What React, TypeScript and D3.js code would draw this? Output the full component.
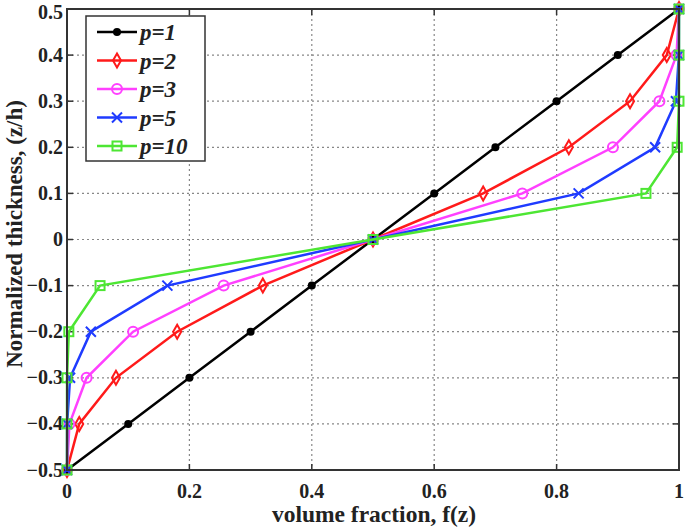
import React from "react";
import * as d3 from "d3";

const zValues = [-0.5, -0.4, -0.3, -0.2, -0.1, 0, 0.1, 0.2, 0.3, 0.4, 0.5];
const fP1 = [0, 0.1, 0.2, 0.3, 0.4, 0.5, 0.6, 0.7, 0.8, 0.9, 1];
const fP2 = [0, 0.02, 0.08, 0.18, 0.32, 0.5, 0.68, 0.82, 0.92, 0.98, 1];
const fP3 = [0, 0.004, 0.032, 0.108, 0.256, 0.5, 0.744, 0.892, 0.968, 0.996, 1];
const fP5 = [0, 0.0002, 0.005, 0.039, 0.164, 0.5, 0.836, 0.961, 0.995, 0.9998, 1];
const fP10 = [0, 0, 0.00003, 0.003, 0.054, 0.5, 0.946, 0.997, 0.99997, 1, 1];
const labels = ["p=1", "p=2", "p=3", "p=5", "p=10"];
const colors = ["#000000", "#ff1a1a", "#ff40ff", "#1f3bff", "#4de633"];
const markers = ["dot", "diamond", "circle", "x", "square"];
const xTicks = [0, 0.2, 0.4, 0.6, 0.8, 1];
const yTicks = [-0.5, -0.4, -0.3, -0.2, -0.1, 0, 0.1, 0.2, 0.3, 0.4, 0.5];

const series = [fP1, fP2, fP3, fP5, fP10];

function Marker({ type, x, y, color }: { type: string; x: number; y: number; color: string }) {
  const sw = 2;
  if (type === "dot") return <circle cx={x} cy={y} r={4} fill={color} />;
  if (type === "diamond")
    return <path d={`M${x},${y - 7}L${x + 4},${y}L${x},${y + 7}L${x - 4},${y}Z`} fill="none" stroke={color} strokeWidth={sw} />;
  if (type === "circle") return <circle cx={x} cy={y} r={5} fill="none" stroke={color} strokeWidth={sw} />;
  if (type === "x")
    return <path d={`M${x - 5},${y - 5}L${x + 5},${y + 5}M${x - 5},${y + 5}L${x + 5},${y - 5}`} stroke={color} strokeWidth={sw} />;
  return <rect x={x - 4.5} y={y - 4.5} width={9} height={9} fill="none" stroke={color} strokeWidth={sw} />;
}

export default function App() {
  const W = 685, H = 532;
  const L = 67, R = 679, T = 9, B = 470;
  const x = d3.scaleLinear().domain([0, 1]).range([L, R]);
  const y = d3.scaleLinear().domain([-0.5, 0.5]).range([B, T]);
  const line = d3.line<number>().x((d) => x(d)).y((_, i) => y(zValues[i]));
  const font = "'Liberation Serif', 'Times New Roman', serif";
  const fmt = (v: number) => (v === 0 ? "0" : v === 1 ? "1" : d3.format(".1f")(v));
  return (
    <svg width={W} height={H} style={{ position: "absolute", left: 0, top: 0, background: "#fff" }}>
      <rect x={0} y={0} width={W} height={H} fill="#fff" />
      {xTicks.slice(1, -1).map((t) => (
        <line key={"gx" + t} x1={x(t)} x2={x(t)} y1={T} y2={B} stroke="#888" strokeWidth={1.2} strokeDasharray="2,3" />
      ))}
      {yTicks.slice(1, -1).map((t) => (
        <line key={"gy" + t} x1={L} x2={R} y1={y(t)} y2={y(t)} stroke="#888" strokeWidth={1.2} strokeDasharray="2,3" />
      ))}
      {xTicks.map((t) => (
        <g key={"tx" + t}>
          <line x1={x(t)} x2={x(t)} y1={B} y2={B - 6} stroke="#333" strokeWidth={1.5} />
          <line x1={x(t)} x2={x(t)} y1={T} y2={T + 6} stroke="#333" strokeWidth={1.5} />
          <text x={x(t)} y={B + 28} textAnchor="middle" fontFamily={font} fontWeight="bold" fontSize={20} fill="#222">
            {fmt(t)}
          </text>
        </g>
      ))}
      {yTicks.map((t) => (
        <g key={"ty" + t}>
          <line x1={L} x2={L + 6} y1={y(t)} y2={y(t)} stroke="#333" strokeWidth={1.5} />
          <line x1={R} x2={R - 6} y1={y(t)} y2={y(t)} stroke="#333" strokeWidth={1.5} />
          <text x={L - 4} y={Math.max(y(t) + 6.5, 18.5)} textAnchor="end" fontFamily={font} fontWeight="bold" fontSize={20} fill="#222">
            {fmt(t)}
          </text>
        </g>
      ))}
      {series.map((s, i) => (
        <g key={"s" + i}>
          <path d={line(s) || ""} fill="none" stroke={colors[i]} strokeWidth={2.5} />
          {s.map((v, j) => (
            <Marker key={j} type={markers[i]} x={x(v)} y={y(zValues[j])} color={colors[i]} />
          ))}
        </g>
      ))}
      <rect x={L} y={T} width={R - L} height={B - T} fill="none" stroke="#333" strokeWidth={2} />
      <g>
        <rect x={86} y={16} width={119} height={145} fill="#fff" stroke="#333" strokeWidth={1.5} />
        {labels.map((lb, i) => {
          const ly = 32 + i * 28.5;
          return (
            <g key={lb}>
              <line x1={97} x2={137} y1={ly} y2={ly} stroke={colors[i]} strokeWidth={2.5} />
              <Marker type={markers[i]} x={117} y={ly} color={colors[i]} />
              <text x={140} y={ly + 8} fontFamily={font} fontWeight="bold" fontStyle="italic" fontSize={23} fill="#222">
                {lb}
              </text>
            </g>
          );
        })}
      </g>
      <text x={374} y={522} textAnchor="middle" fontFamily={font} fontWeight="bold" fontSize={23.5} fill="#222">
        volume fraction, f(z)
      </text>
      <text
        transform={`translate(22,234) rotate(-90)`}
        textAnchor="middle"
        fontFamily={font}
        fontWeight="bold"
        fontSize={23}
        fill="#222"
      >
        Normalized thickness, (z/h)
      </text>
    </svg>
  );
}
